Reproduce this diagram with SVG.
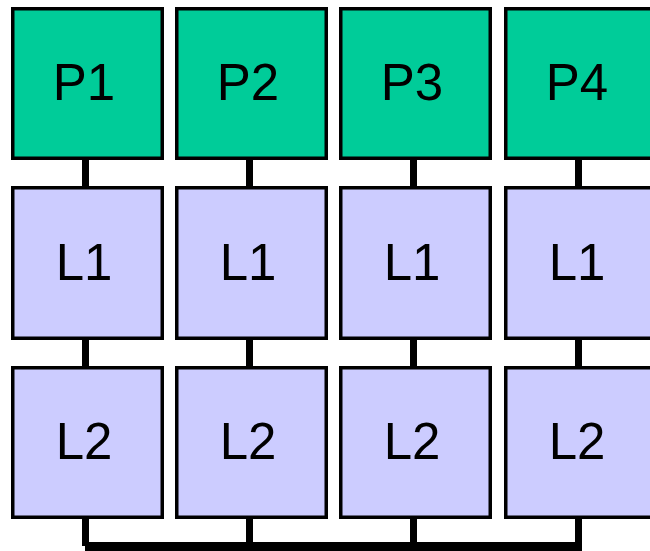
<svg xmlns="http://www.w3.org/2000/svg" width="650" height="551" viewBox="0 0 650 551">
<style>
.p{fill:#00CC99;stroke:#000;stroke-width:3.5}
.l{fill:#CCCCFF;stroke:#000;stroke-width:3.5}
.t{font-family:"Liberation Sans",Arial,sans-serif;font-size:51px;fill:#000;text-anchor:middle}
.c{stroke:#000;stroke-width:7;fill:none}
</style>
<rect width="650" height="551" fill="#fff"/>
<g id="connectors">
<path class="c" d="M85.5 160V186M85.5 340V366M85.5 519V546"/>
<path class="c" d="M249.5 160V186M249.5 340V366M249.5 519V546"/>
<path class="c" d="M413.5 160V186M413.5 340V366M413.5 519V546"/>
<path class="c" d="M578.5 160V186M578.5 340V366M578.5 519V546"/>
<path d="M85 542H582V551H85Z" fill="#000"/>
</g>
<g id="P1"><rect class="p" x="12.75" y="8.75" width="149.5" height="149.5"/><text class="t" x="84" y="100">P1</text></g>
<g id="P2"><rect class="p" x="176.75" y="8.75" width="149.5" height="149.5"/><text class="t" x="248" y="100">P2</text></g>
<g id="P3"><rect class="p" x="340.75" y="8.75" width="149.5" height="149.5"/><text class="t" x="412" y="100">P3</text></g>
<g id="P4"><rect class="p" x="505.75" y="8.75" width="149.5" height="149.5"/><text class="t" x="577" y="100">P4</text></g>
<g id="L1a"><rect class="l" x="12.75" y="187.75" width="149.5" height="150.5"/><text class="t" x="84" y="280">L1</text></g>
<g id="L1b"><rect class="l" x="176.75" y="187.75" width="149.5" height="150.5"/><text class="t" x="248" y="280">L1</text></g>
<g id="L1c"><rect class="l" x="340.75" y="187.75" width="149.5" height="150.5"/><text class="t" x="412" y="280">L1</text></g>
<g id="L1d"><rect class="l" x="505.75" y="187.75" width="149.5" height="150.5"/><text class="t" x="577" y="280">L1</text></g>
<g id="L2a"><rect class="l" x="12.75" y="367.75" width="149.5" height="149.5"/><text class="t" x="84" y="459">L2</text></g>
<g id="L2b"><rect class="l" x="176.75" y="367.75" width="149.5" height="149.5"/><text class="t" x="248" y="459">L2</text></g>
<g id="L2c"><rect class="l" x="340.75" y="367.75" width="149.5" height="149.5"/><text class="t" x="412" y="459">L2</text></g>
<g id="L2d"><rect class="l" x="505.75" y="367.75" width="149.5" height="149.5"/><text class="t" x="577" y="459">L2</text></g>
</svg>
